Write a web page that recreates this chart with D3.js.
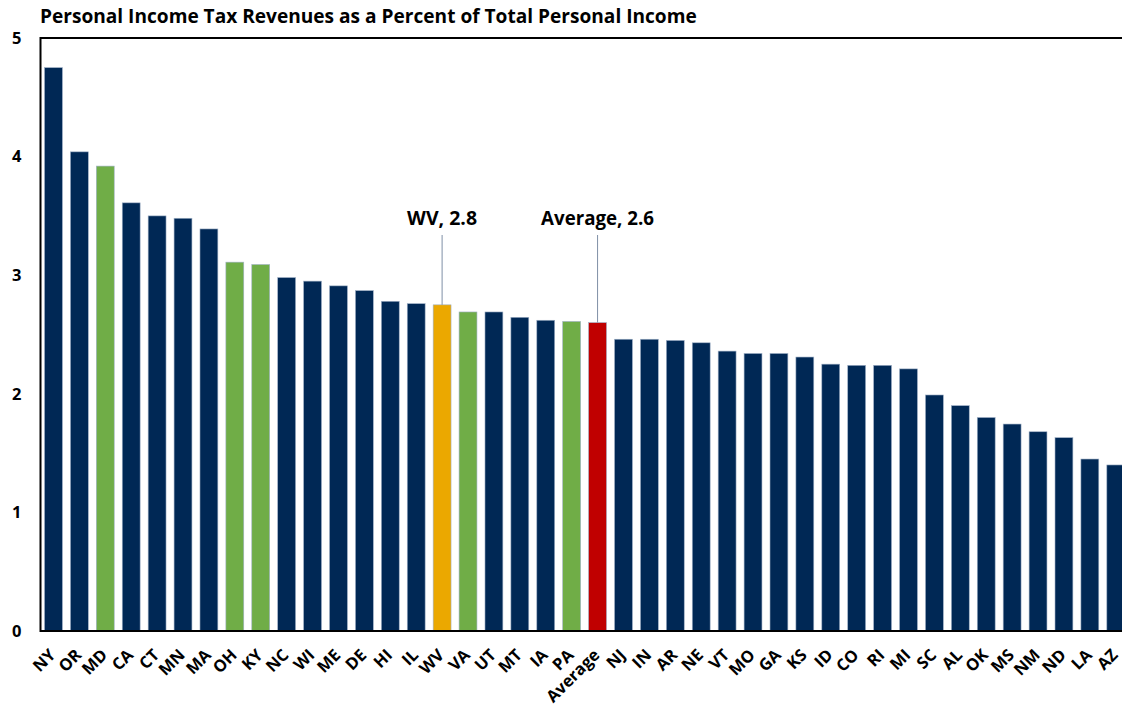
<!DOCTYPE html>
<html>
<head>
<meta charset="utf-8">
<script src="https://cdn.jsdelivr.net/npm/d3@7"></script>
<style>
  html, body { margin: 0; padding: 0; background: #fff; overflow: hidden; }
  svg { display: block; }
  text { font-family: "Open Sans", "Noto Sans", sans-serif; font-weight: 700; fill: #000; }
</style>
</head>
<body>
<svg id="chart" width="1122" height="709"></svg>
<script>
// Personal income tax revenues as a percent of total personal income, by state
const states = ["NY","OR","MD","CA","CT","MN","MA","OH","KY","NC","WI","ME","DE","HI","IL","WV","VA","UT","MT","IA","PA","Average","NJ","IN","AR","NE","VT","MO","GA","KS","ID","CO","RI","MI","SC","AL","OK","MS","NM","ND","LA","AZ"];
const values = [4.75,4.04,3.92,3.61,3.50,3.48,3.39,3.11,3.09,2.98,2.95,2.91,2.87,2.78,2.76,2.75,2.69,2.69,2.645,2.62,2.61,2.60,2.46,2.46,2.45,2.43,2.36,2.34,2.34,2.31,2.25,2.24,2.24,2.21,1.99,1.90,1.80,1.745,1.68,1.63,1.45,1.40];
const neighbors = ["MD","OH","KY","VA","PA"];
const yTicks = [0,1,2,3,4,5];
const callouts = [
  { state: "WV", text: "WV, 2.8", width: 70 },
  { state: "Average", text: "Average, 2.6", width: 113 }
];
const titleText = "Personal Income Tax Revenues as a Percent of Total Personal Income";

const colors = { base: "#002855", neighbor: "#70AD47", home: "#EBA800", average: "#C00000" };
function barColor(s) {
  if (s === "WV") return colors.home;
  if (s === "Average") return colors.average;
  if (neighbors.includes(s)) return colors.neighbor;
  return colors.base;
}

// Scale a text's font size so that it spans the given width
function fitWidth(sel, width, base) {
  sel.style("font-size", base + "px");
  const w = sel.node().getComputedTextLength();
  sel.style("font-size", (base * width / w).toFixed(2) + "px");
}

const svg = d3.select("#chart");
const plot = { left: 40.5, top: 38, bottom: 631, right: 40.5 + 42 * 25.91 };

const x = d3.scaleBand().domain(states).range([plot.left, plot.right])
  .paddingInner(0.31).paddingOuter(0.155);
const y = d3.scaleLinear().domain([0, 5]).range([plot.bottom, plot.top]);

// Title
svg.append("text").attr("x", 40).attr("y", 23)
  .text(titleText).call(fitWidth, 657, 16);

// Bars
svg.append("g").selectAll("rect").data(states).join("rect")
  .attr("x", d => x(d))
  .attr("y", (d, i) => y(values[i]))
  .attr("width", x.bandwidth())
  .attr("height", (d, i) => y(0) - y(values[i]))
  .attr("fill", d => barColor(d))
  .attr("stroke", "#9fb0c6").attr("stroke-width", 0.6);

// Plot frame (left, top, bottom)
svg.append("path")
  .attr("d", `M${plot.right + 20},${plot.top}H${plot.left}V${plot.bottom}H${plot.right + 20}`)
  .attr("fill", "none").attr("stroke", "#000").attr("stroke-width", 2);

// Y axis labels
const yAxis = d3.axisLeft(y).tickValues(yTicks).tickSize(0).tickPadding(19).tickFormat(d3.format("d"));
svg.append("g").attr("transform", `translate(${plot.left},0)`).call(yAxis)
  .call(g => g.select(".domain").remove())
  .call(g => g.selectAll("text").style("font-size", "16.5px")
    .style("font-family", "'Open Sans', 'Noto Sans', sans-serif").style("font-weight", 700).attr("fill", "#000"));

// X axis labels, rotated
svg.append("g").selectAll("text").data(states).join("text")
  .attr("transform", d => `translate(${x(d) + x.bandwidth() / 2 - 1},${plot.bottom + 21}) rotate(-45)`)
  .attr("text-anchor", "end").attr("dy", "0.35em")
  .style("font-size", "16.5px")
  .text(d => d);

// Callouts with leader lines down to the bar tops
const calloutY = 225;
callouts.forEach(c => {
  const i = states.indexOf(c.state);
  const cx = x(c.state) + x.bandwidth() / 2;
  svg.append("line")
    .attr("x1", cx).attr("x2", cx)
    .attr("y1", calloutY + 10).attr("y2", y(values[i]))
    .attr("stroke", "#7f8fa6").attr("stroke-width", 1);
  svg.append("text").attr("x", cx).attr("y", calloutY)
    .attr("text-anchor", "middle")
    .text(c.text).call(fitWidth, c.width, 16);
});
</script>
</body>
</html>
